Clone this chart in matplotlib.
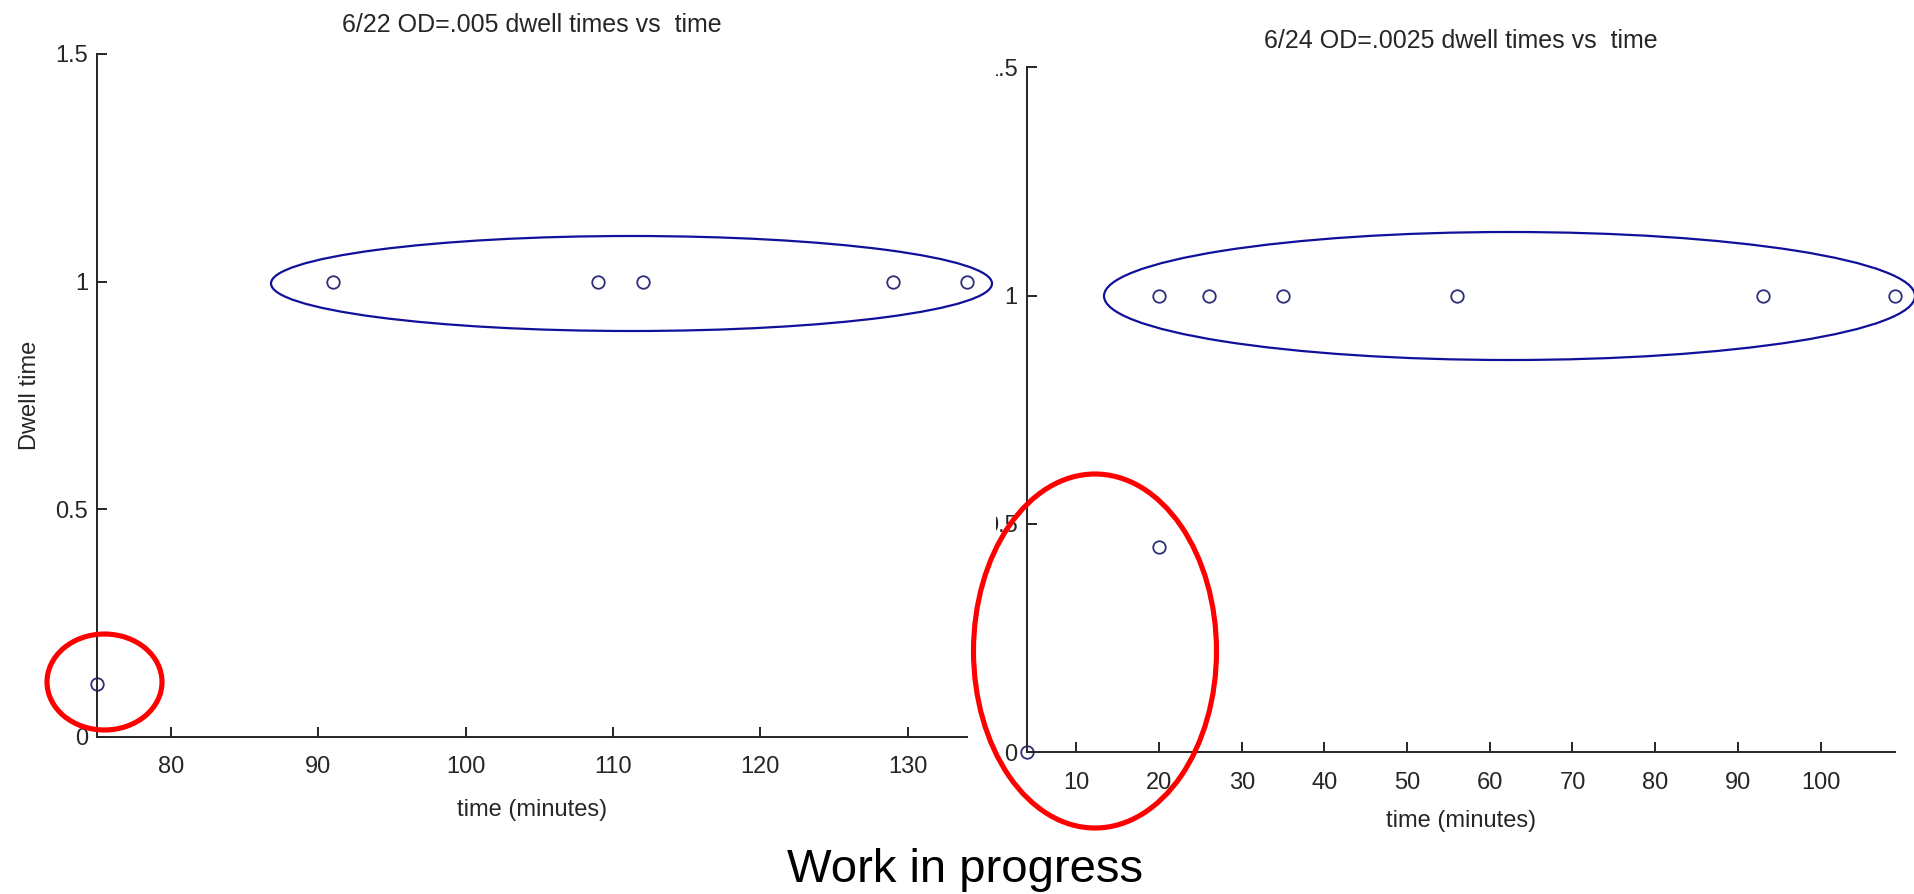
import matplotlib
matplotlib.use('Agg')
import matplotlib.pyplot as plt
from matplotlib.patches import Ellipse
from matplotlib.transforms import Bbox, TransformedBbox

plt.rcParams['font.family'] = ['Liberation Sans', 'DejaVu Sans']

# 6/22 run, OD=.005
time_622 = [75, 91, 109, 112, 129, 134]
dwell_622 = [0.115, 1, 1, 1, 1, 1]
xticks_622 = [80, 90, 100, 110, 120, 130]

# 6/24 run, OD=.0025
time_624 = [4, 20, 20, 26, 35, 56, 93, 109]
dwell_624 = [0, 0.45, 1, 1, 1, 1, 1, 1]
xticks_624 = [10, 20, 30, 40, 50, 60, 70, 80, 90, 100]

yticks = [0, 0.5, 1, 1.5]
ytick_labels = ['0', '0.5', '1', '1.5']

W, H = 1915, 894
fig = plt.figure(figsize=(W / 100, H / 100), dpi=100)


def box(x0, x1, ytop, ybot):
    # pixel box (from top-left) -> figure fraction
    return [x0 / W, 1 - ybot / H, (x1 - x0) / W, (ybot - ytop) / H]


def ring(cx, cy, w, h, color, lw):
    fig.add_artist(Ellipse((cx / W, 1 - cy / H), w / W, h / H, transform=fig.transFigure,
                           fill=False, edgecolor=color, linewidth=lw))


def matlab_axes(ax, t, d, xt, title, tpad, xlpad):
    ax.plot(t, d, 'o', mfc='none', mec='#2e2e7a', ms=9, mew=1.3, clip_on=False)
    ax.set_xlim(min(t), max(t))
    ax.set_ylim(0, 1.5)
    ax.set_xticks(xt)
    ax.set_xticklabels([str(v) for v in xt])
    ax.set_yticks(yticks)
    ax.set_yticklabels(ytick_labels)
    for s in ['top', 'right']:
        ax.spines[s].set_visible(False)
    for s in ['left', 'bottom']:
        ax.spines[s].set_color('#262626')
        ax.spines[s].set_linewidth(1.4)
    ax.tick_params(direction='in', length=7, width=1.4, color='#262626',
                   labelcolor='#262626', labelsize=17)
    ax.tick_params(axis='x', pad=14)
    ax.tick_params(axis='y', pad=6.5)
    ax.set_title(title, fontsize=18, color='#262626', pad=tpad)
    ax.set_xlabel('time (minutes)', fontsize=17, color='#262626', labelpad=xlpad)


ax1 = fig.add_axes(box(97.3, 966.7, 54, 736.7))
matlab_axes(ax1, time_622, dwell_622, xticks_622, '6/22 OD=.005 dwell times vs  time', 16, 15)
ax1.set_ylabel('Dwell time', fontsize=17, color='#262626', labelpad=10.5)

ax2 = fig.add_axes(box(1026.7, 1895, 67.4, 752.3))
matlab_axes(ax2, time_624, dwell_624, xticks_624, '6/24 OD=.0025 dwell times vs  time', 14, 12)

# the right screenshot is cropped on its left edge
clip = TransformedBbox(Bbox.from_extents(995.5 / W, 0, 1, 1), fig.transFigure)
for lab in ax2.get_yticklabels():
    lab.set_clip_box(clip)
    lab.set_clip_on(True)

# hand-drawn annotation rings
ring(631.5, 283.5, 721, 95, '#10109a', 1.6)
ring(1509.5, 296, 811, 128, '#10109a', 1.6)
ring(104.5, 682, 115, 96, 'red', 3.7)
ring(1095, 651, 243, 354, 'red', 3.7)

fig.text(965 / W, 1 - 870 / H, 'Work in progress', ha='center', va='center',
         fontsize=34, color='black')

fig.savefig('out.png', dpi=100)
